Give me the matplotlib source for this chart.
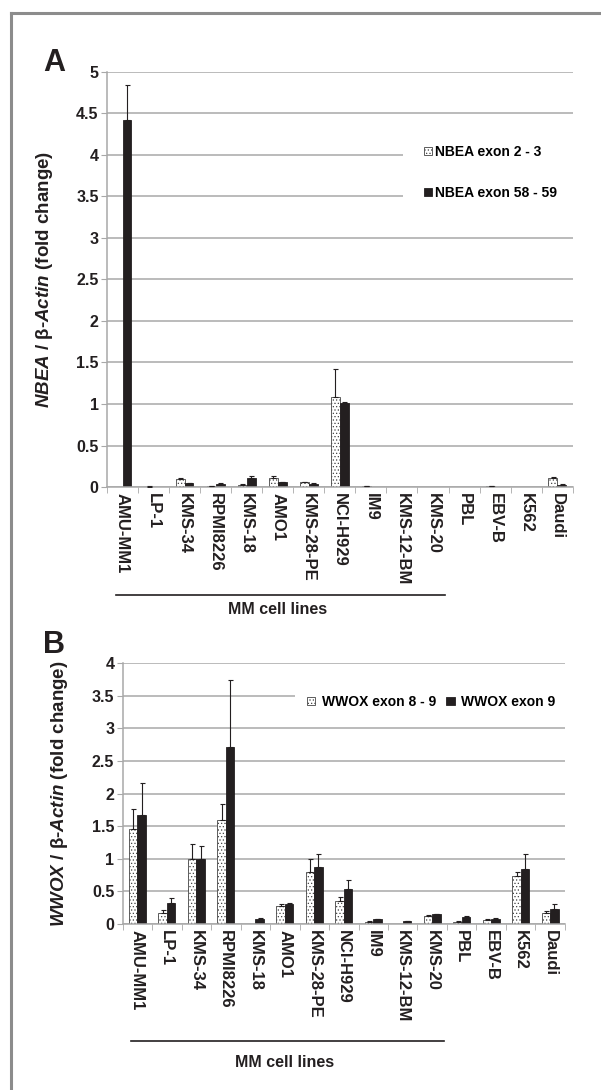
import numpy as np
import matplotlib
matplotlib.use("Agg")
import matplotlib.pyplot as plt
from matplotlib.lines import Line2D
from matplotlib.transforms import blended_transform_factory

# fonts: Arial-like bold everywhere, bold italic for gene names in the y labels
plt.rcParams["font.family"] = "Liberation Sans"
plt.rcParams["mathtext.fontset"] = "custom"
plt.rcParams["mathtext.it"] = "Liberation Sans:italic:bold"
plt.rcParams["mathtext.rm"] = "Liberation Sans:bold"
plt.rcParams["hatch.linewidth"] = 0.5

cell_lines = ["AMU-MM1", "LP-1", "KMS-34", "RPMI8226", "KMS-18", "AMO1",
              "KMS-28-PE", "NCI-H929", "IM9", "KMS-12-BM", "KMS-20", "PBL",
              "EBV-B", "K562", "Daudi"]

# panel A: NBEA expression
nbea_ex2_3 = [0.0, 0.005, 0.10, 0.01, 0.03, 0.11, 0.055, 1.08, 0.01, 0.0,
              0.003, 0.005, 0.01, 0.0, 0.11]
nbea_ex2_3_err = [0.0, 0.002, 0.01, 0.002, 0.005, 0.02, 0.005, 0.34, 0.002,
                  0.0, 0.0, 0.0, 0.002, 0.0, 0.012]
nbea_ex58_59 = [4.42, 0.004, 0.045, 0.035, 0.11, 0.055, 0.04, 1.015, 0.005,
                0.0, 0.003, 0.003, 0.005, 0.0, 0.03]
nbea_ex58_59_err = [0.42, 0.0, 0.005, 0.01, 0.02, 0.005, 0.005, 0.01, 0.0,
                    0.0, 0.0, 0.0, 0.0, 0.0, 0.005]

# panel B: WWOX expression
wwox_ex8_9 = [1.45, 0.17, 1.0, 1.59, 0.0, 0.27, 0.80, 0.36, 0.03, 0.0,
              0.12, 0.03, 0.06, 0.74, 0.17]
wwox_ex8_9_err = [0.31, 0.05, 0.22, 0.25, 0.0, 0.03, 0.19, 0.06, 0.01, 0.0,
                  0.02, 0.01, 0.01, 0.06, 0.03]
wwox_ex9 = [1.67, 0.32, 1.0, 2.71, 0.07, 0.30, 0.87, 0.54, 0.07, 0.04,
            0.15, 0.11, 0.08, 0.85, 0.23]
wwox_ex9_err = [0.50, 0.08, 0.19, 1.04, 0.02, 0.02, 0.21, 0.13, 0.01, 0.01,
                0.01, 0.02, 0.01, 0.22, 0.07]

DARK = "#231f20"
GRID = "#a8a8a8"
W = 0.285


def draw_panel(ax, dotted, dotted_err, solid, solid_err, ymax, labels):
    x = np.arange(len(cell_lines))
    ax.set_axisbelow(True)
    ax.yaxis.grid(True, color=GRID, lw=1.1)
    ax.bar(x - W / 2, dotted, W, color="white", edgecolor="#444444",
           hatch=".....", lw=0.6, label=labels[0], zorder=2)
    ax.bar(x + W / 2, solid, W, color=DARK, edgecolor=DARK, lw=0.6,
           label=labels[1], zorder=2)
    for xs, v, e in [(x - W / 2, dotted, dotted_err), (x + W / 2, solid, solid_err)]:
        for xi, vi, ei in zip(xs, v, e):
            if ei > 0:
                ax.errorbar(xi, vi, yerr=[[0], [ei]], fmt="none", ecolor=DARK,
                            elinewidth=0.8, capsize=1.8, capthick=0.8, zorder=3)
    ax.set_xlim(-0.5, len(cell_lines) - 0.5)
    ax.set_ylim(0, ymax)
    ticks = np.arange(0, ymax + 0.01, 0.5)
    ax.set_yticks(ticks)
    ax.set_yticklabels([f"{t:g}" for t in ticks],
                       fontsize=11.5, fontweight="bold", color=DARK)
    ax.set_xticks(x)
    ax.set_xticklabels(cell_lines, rotation=-90, fontsize=12,
                       fontweight="bold", color=DARK, va="top")
    ax.set_xticks(np.arange(-0.5, len(cell_lines), 1), minor=True)
    ax.tick_params(axis="x", which="major", length=0, pad=4)
    ax.tick_params(axis="x", which="minor", length=4, color=GRID, direction="out")
    ax.tick_params(axis="y", length=4, color=GRID, pad=2)
    for s in ["top", "right"]:
        ax.spines[s].set_visible(False)
    for s in ["left", "bottom"]:
        ax.spines[s].set_color(GRID)
        ax.spines[s].set_linewidth(1.1)


def mm_bracket(ax, y_line, y_text):
    tr = blended_transform_factory(ax.transData, ax.transAxes)
    ax.add_line(Line2D([-0.2, 10.4], [y_line, y_line], transform=tr,
                       color=DARK, lw=1.2, clip_on=False))
    ax.text(5.0, y_text, "MM cell lines", transform=tr, ha="center",
            va="center", fontsize=11.5, fontweight="bold", color=DARK)


def white_legend(leg):
    frame = leg.get_frame()
    frame.set_facecolor("white")
    frame.set_edgecolor("none")
    frame.set_alpha(1.0)
    frame.set_boxstyle("square", pad=0)


fig = plt.figure(figsize=(6.01, 10.9), dpi=100)

# panel A
axA = fig.add_axes([0.178, 0.5532, 0.775, 0.3808])
draw_panel(axA, nbea_ex2_3, nbea_ex2_3_err, nbea_ex58_59, nbea_ex58_59_err,
           5.0, ["NBEA exon 2 - 3", "NBEA exon 58 - 59"])
axA.set_ylabel(r"$\mathit{NBEA}$ / β-$\mathit{Actin}$ (fold change)",
               fontsize=13.5, fontweight="bold", color=DARK)
axA.yaxis.set_label_coords(-0.112, 0.5)
legA = axA.legend(loc="center left", bbox_to_anchor=(0.635, 0.65, 0.38, 0.216),
                  mode="expand", borderaxespad=0, borderpad=1.5, frameon=True,
                  labelspacing=1.95, handlelength=0.6, handleheight=0.6,
                  handletextpad=0.25,
                  prop={"size": 10, "weight": "bold"})
white_legend(legA)
mm_bracket(axA, -0.26, -0.296)

# panel B
axB = fig.add_axes([0.204, 0.1523, 0.736, 0.2392])
draw_panel(axB, wwox_ex8_9, wwox_ex8_9_err, wwox_ex9, wwox_ex9_err,
           4.0, ["WWOX exon 8 - 9", "WWOX exon 9"])
axB.set_ylabel(r"$\mathit{WWOX}$ / β-$\mathit{Actin}$ (fold change)",
               fontsize=13.5, fontweight="bold", color=DARK)
axB.yaxis.set_label_coords(-0.119, 0.5)
legB = axB.legend(loc="center left", bbox_to_anchor=(0.39, 0.8516), ncol=2,
                  borderaxespad=0, borderpad=0.85, frameon=True,
                  handlelength=0.6, handleheight=0.6, handletextpad=0.45,
                  columnspacing=0.75,
                  prop={"size": 10, "weight": "bold"})
white_legend(legB)
mm_bracket(axB, -0.449, -0.533)

# panel letters
fig.text(43 / 601, 1 - 71 / 1090, "A", fontsize=22, fontweight="bold",
         color=DARK, ha="left", va="baseline")
fig.text(43 / 601, 1 - 653 / 1090, "B", fontsize=22, fontweight="bold",
         color=DARK, ha="left", va="baseline")

# grey frame of the original figure (left and top edges)
fx, fy = 11 / 601, 1 - 13 / 1090
fig.add_artist(Line2D([fx, fx], [0, fy], transform=fig.transFigure,
                      color="#8c8c8c", lw=2.2))
fig.add_artist(Line2D([fx, 1], [fy, fy], transform=fig.transFigure,
                      color="#8c8c8c", lw=2.2))

fig.savefig("out.png", dpi=100)
